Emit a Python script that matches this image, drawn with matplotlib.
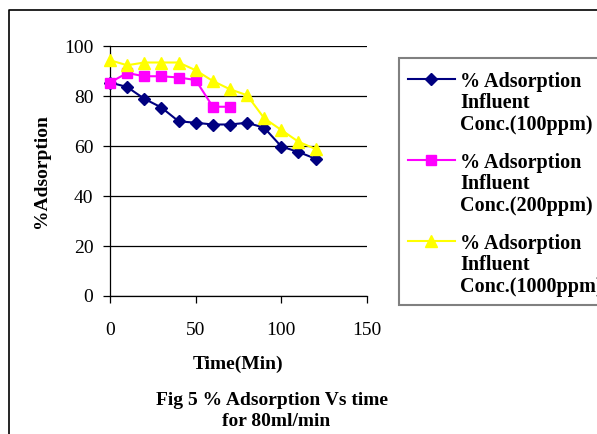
import matplotlib
matplotlib.use("Agg")
import matplotlib.pyplot as plt
from matplotlib.lines import Line2D
from matplotlib.patches import Rectangle

# --- data ---
time_min = [0, 10, 20, 30, 40, 50, 60, 70, 80, 90, 100, 110, 120]
ads_100 = [85.4, 83.6, 78.9, 75.4, 69.9, 69.3, 68.6, 68.6, 69.3, 67.3, 59.8, 57.6, 54.9]
time_200 = [0, 10, 20, 30, 40, 50, 60, 70]
ads_200 = [85.4, 89.2, 87.9, 87.9, 87.4, 86.4, 75.7, 75.7]
ads_1000 = [94.3, 92.3, 93.4, 93.4, 93.4, 90.3, 86.0, 82.7, 80.3, 71.1, 66.4, 61.7, 58.8]

labels = [
    ["% Adsorption", "Influent", "Conc.(100ppm)"],
    ["% Adsorption", "Influent", "Conc.(200ppm)"],
    ["% Adsorption", "Influent", "Conc.(1000ppm)"],
]
colors = ["#000080", "#FF00FF", "#FFFF00"]
markers = ["D", "s", "^"]
msizes = [6.5, 7, 8.5]

W, H = 597, 434
plt.rcParams["font.family"] = ["Liberation Serif", "DejaVu Serif"]

fig = plt.figure(figsize=(W / 100, H / 100), dpi=100)

def fx(px):
    return px / W

def fy(py):
    return 1 - py / H

# plot area
ax = fig.add_axes([fx(110), fy(296), (367 - 110) / W, (296 - 46) / H])
series = [(time_min, ads_100), (time_200, ads_200), (time_min, ads_1000)]
for (xs, ys), c, m, ms in zip(series, colors, markers, msizes):
    ax.plot(xs, ys, color=c, marker=m, markersize=ms, linewidth=1.5,
            markeredgecolor=c, markerfacecolor=c, clip_on=False, zorder=3)

ax.set_xlim(0, 150)
ax.set_ylim(0, 100)
ax.set_xticks([0, 50, 100, 150])
ax.set_yticks([0, 20, 40, 60, 80, 100])
ax.yaxis.grid(True, color="black", linewidth=0.9)
ax.set_axisbelow(True)
for s in ["top", "right"]:
    ax.spines[s].set_visible(False)
for s in ["left", "bottom"]:
    ax.spines[s].set_linewidth(0.9)
ax.tick_params(axis="both", direction="out", length=5, width=0.9, labelsize=14)
ax.tick_params(axis="x", pad=14)
ax.tick_params(axis="y", pad=7)

# axis titles and caption
fig.text(fx(238), fy(369), "Time(Min)", ha="center", va="baseline",
         fontsize=14, fontweight="bold")
fig.text(fx(42), fy(171), "%Adsorption", ha="center", va="center",
         rotation=90, fontsize=14, fontweight="bold")
fig.text(fx(272), fy(405), "Fig 5 % Adsorption Vs time", ha="center",
         va="baseline", fontsize=14, fontweight="bold")
fig.text(fx(276), fy(426), "for 80ml/min", ha="center", va="baseline",
         fontsize=14, fontweight="bold")

# legend box (cut off by the right edge like the original)
fig.add_artist(Rectangle((fx(399), fy(305)), (640 - 399) / W, (305 - 58) / H,
                         transform=fig.transFigure, facecolor="white",
                         edgecolor="#808080", linewidth=1.5))
for i, (lab, c, m, ms) in enumerate(zip(labels, colors, markers, msizes)):
    y0 = 79 + i * 81
    fig.add_artist(Line2D([fx(408), fx(455)], [fy(y0), fy(y0)],
                          transform=fig.transFigure, color=c, linewidth=1.5))
    fig.add_artist(Line2D([fx(431)], [fy(y0)], transform=fig.transFigure,
                          color=c, marker=m, markersize=ms))
    for j, line in enumerate(lab):
        fig.text(fx(460), fy(y0 + 7.7 + j * 21.7), line, ha="left",
                 va="baseline", fontsize=14.5, fontweight="bold")

# outer chart border (only left and top edges fall inside the picture)
fig.add_artist(Line2D([fx(9), fx(9), fx(620)], [fy(450), fy(10), fy(10)],
                      transform=fig.transFigure, color="black", linewidth=1.2))

fig.savefig("out.png", dpi=100)
